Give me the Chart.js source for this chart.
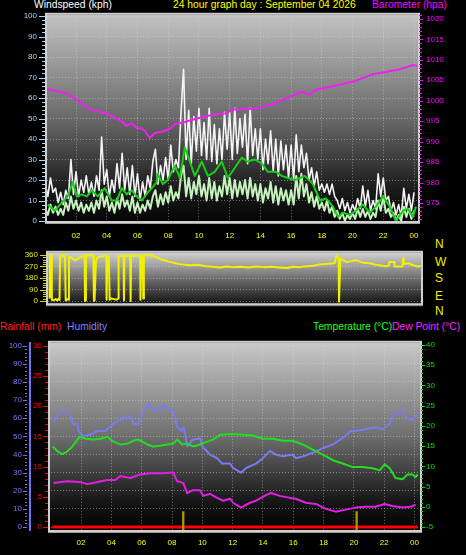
<!DOCTYPE html>
<html>
<head>
<meta charset="utf-8">
<script src="https://cdn.jsdelivr.net/npm/chart.js@4.4.1/dist/chart.umd.min.js"></script>
<style>
  body { margin: 0; background: #000; width: 466px; height: 555px; overflow: hidden; position: relative;
         font-family: "Liberation Sans", Arial, sans-serif; }
  canvas { position: absolute; left: 0; }
  .t { position: absolute; font-size: 10.3px; line-height: 12px; white-space: nowrap; }
  .c { position: absolute; left: 435px; font-size: 12px; line-height: 12px; color: #f0f000; }
</style>
</head>
<body>
<div class="t" style="left:34px;top:-1px;color:#fff">Windspeed (kph)</div>
<div class="t" style="left:173px;top:-1px;color:#ffff00">24 hour graph day : September 04 2026</div>
<div class="t" style="left:372px;top:-1px;color:#ff00ff">Barometer (hpa)</div>

<div class="c" style="top:238px">N</div>
<div class="c" style="top:256px">W</div>
<div class="c" style="top:272px">S</div>
<div class="c" style="top:290px">E</div>
<div class="c" style="top:305px">N</div>

<div class="t" style="left:0;top:321px;color:#ff2020">Rainfall (mm)</div>
<div class="t" style="left:67px;top:321px;color:#8080ff">Humidity</div>
<div class="t" style="left:313px;top:321px;color:#20ff20">Temperature (°C)</div>
<div class="t" style="left:392px;top:321px;color:#ff20ff">Dew Point (°C)</div>

<canvas id="wind" width="466" height="240" style="top:0"></canvas>
<canvas id="dir" width="466" height="80" style="top:238px"></canvas>
<canvas id="temp" width="466" height="225" style="top:330px"></canvas>

<script>
// ---- data ----
const hourTicks = [2, 4, 6, 8, 10, 12, 14, 16, 18, 20, 22, 24];
const windTicks = [0, 10, 20, 30, 40, 50, 60, 70, 80, 90, 100];
const baroTicks = [975, 980, 985, 990, 995, 1000, 1005, 1010, 1015, 1020];
const dirTicks = [0, 90, 180, 270, 360];
const humTicks = [0, 10, 20, 30, 40, 50, 60, 70, 80, 90, 100];
const rainTicks = [0, 5, 10, 15, 20, 25, 30];
const tempTicks = [-5, 0, 5, 10, 15, 20, 25, 30, 35, 40];

// gust and wind speed, one sample every 10 minutes from 00:00
const windStep = 1 / 6;
const gustKph = [
  18, 12, 21, 14, 16, 9,   14, 8, 15, 11, 30, 13,   24, 12, 20, 14, 22, 13,   19, 12, 22, 15, 41, 18,
  25, 12, 20, 14, 28, 16,  33, 15, 26, 13, 27, 12,  23, 10, 19, 12, 22, 16,   29, 35, 18, 27, 20, 31,
  20, 37, 24, 30, 26, 53,  74, 30, 54, 28, 51, 34,  55, 32, 48, 30, 55, 29,   47, 28, 45, 30, 53, 35,
  53, 30, 55, 33, 50, 36,  52, 28, 55, 32, 45, 30,  45, 25, 40, 28, 44, 24,   40, 22, 39, 25, 37, 21,
  37, 20, 42, 24, 37, 26,  33, 20, 26, 17, 24, 15,  18, 14, 18, 13, 18, 12,   10, 6, 11, 5, 9, 4,
  8, 5, 11, 6, 17, 7,      15, 5, 10, 6, 23, 12,    21, 10, 12, 5, 9, 3,      8, 2, 16, 6, 13, 5,
  14
];
const windKph = [
  6, 3, 8, 4, 7, 3,        6, 3, 9, 5, 12, 6,       10, 5, 9, 4, 8, 5,        9, 4, 10, 6, 15, 7,
  12, 5, 9, 4, 11, 6,      13, 7, 10, 5, 12, 4,     9, 4, 8, 5, 10, 6,        12, 15, 7, 13, 8, 14,
  9, 17, 10, 14, 11, 22,   27, 12, 21, 11, 19, 13,  22, 12, 18, 10, 21, 11,   19, 10, 17, 12, 22, 13,
  21, 11, 20, 12, 19, 13,  20, 11, 21, 12, 18, 10,  18, 9, 16, 11, 19, 9,     17, 8, 16, 10, 15, 8,
  15, 8, 22, 11, 23, 12,   18, 9, 14, 7, 12, 6,     9, 5, 10, 4, 7, 2,        5, 1, 4, 0, 3, 1,
  4, 1, 6, 2, 6, 2,        5, 1, 4, 2, 10, 5,       12, 4, 6, 2, 4, 0,        3, 0, 7, 2, 6, 1,
  5
];
const avgHours = [0.16, 0.61, 1.07, 1.46, 1.79, 2.05, 2.37, 2.7, 3.02, 3.41, 3.87, 4.33, 4.65, 4.98, 5.3, 5.63,
  5.95, 6.28, 6.67, 6.93, 7.26, 7.32, 7.65, 7.97, 8.43, 8.76, 9.08, 9.41, 9.73, 10.19, 10.58, 11.03, 11.49, 11.88,
  12.34, 12.79, 13.18, 13.64, 14.1, 14.49, 15.01, 15.4, 15.79, 16.25, 16.9, 17.42, 17.88, 18.27, 18.72, 19.05,
  19.37, 19.83, 20.22, 20.68, 21.13, 21.52, 21.98, 22.43, 22.82, 23.28, 23.6, 23.93, 24.13];
const avgKph = [8, 5, 9, 12, 19, 12, 13, 12, 15, 12, 16, 10, 10, 16, 13, 15,
  12, 10, 14, 16, 19, 23, 18, 20, 27, 21, 36, 29, 22, 29, 22, 24, 29, 21,
  26, 31, 29, 30, 28, 24, 24, 22, 21, 20, 22, 18, 10, 11, 7, 2,
  4, 3, 5, 8, 4, 7, 12, 7, 0, 5, 6, 2, 7];
const baroHours = [0.09, 0.61, 1.46, 1.92, 2.24, 2.57, 2.89, 3.41, 4.0, 4.33, 4.98, 5.3, 5.63, 5.95, 6.28, 6.48,
  6.8, 7.13, 7.58, 8.1, 8.43, 9.08, 9.93, 11.03, 11.69, 12.34, 12.99, 13.64, 14.29, 14.95, 15.6, 16.25, 16.64,
  17.22, 17.61, 18.53, 19.37, 20.22, 21.33, 22.17, 23.08, 23.93, 24.2];
const baroHpa = [1002.9, 1002.5, 1001.7, 1000.5, 999.8, 998.8, 997.9, 997.4, 996.9, 996.2, 995.0, 993.8, 994.5, 993.3, 993.3, 992.6,
  990.9, 992.1, 992.4, 993.1, 994.3, 994.8, 995.7, 996.7, 996.9, 997.9, 997.9, 998.1, 998.6, 999.3, 1000.5, 1001.5, 1002.2,
  1001.5, 1002.7, 1003.4, 1004.1, 1004.9, 1006.5, 1007.0, 1007.7, 1008.7, 1008.5];

// wind direction
const dirHours = [0.10, 0.13, 0.16, 0.20, 0.25, 0.35, 0.50, 0.60, 0.70, 0.75,
  0.78, 0.90, 1.00, 1.10, 1.15, 1.25, 1.33, 1.36, 1.50, 1.75,
  2.00, 2.29, 2.38, 2.40, 2.44, 2.46, 2.70, 2.94, 2.98, 3.02,
  3.11, 3.20, 3.50, 3.78, 3.80, 3.85, 3.95, 4.00, 4.10, 4.30,
  4.45, 4.55, 4.58, 4.90, 4.93, 4.96, 5.33, 5.36, 5.39, 5.70,
  5.98, 6.00, 6.05, 6.15, 6.18, 6.22, 6.50, 6.83, 7.20, 7.47,
  7.80, 8.12, 8.50, 8.77, 9.20, 9.70, 10.28, 10.70, 11.15, 11.60,
  12.00, 12.50, 13.00, 13.50, 14.00, 14.50, 15.00, 15.50, 15.90, 16.33,
  16.80, 17.20, 17.63, 18.20, 18.60, 18.71, 18.80, 18.86, 18.88, 18.93,
  18.97, 19.20, 19.36, 19.70, 20.00, 20.43, 20.90, 21.20, 21.52, 21.90,
  22.10, 22.16, 22.45, 22.49, 23.00, 23.05, 23.12, 23.40, 23.70, 24.00,
  24.20];
const dirDeg = [20, 360, 40, 355, 10, 5, 15, 5, 20, 8,
  355, 360, 350, 358, 5, 15, 10, 350, 340, 318,
  335, 355, 352, 0, 5, 355, 358, 355, 0, 5,
  310, 340, 350, 355, 10, 320, 350, 10, 20, 15,
  10, 20, 350, 355, 5, 350, 355, 0, 350, 355,
  352, 10, 340, 355, 20, 355, 360, 352, 335, 320,
  310, 300, 290, 285, 280, 283, 272, 268, 262, 270,
  265, 268, 262, 270, 265, 268, 263, 258, 268, 265,
  272, 275, 285, 292, 295, 355, 345, 340, -5, -5,
  330, 318, 305, 312, 320, 300, 295, 285, 280, 272,
  275, 305, 305, 270, 270, 340, 290, 295, 280, 270,
  275];

// humidity, temperature, dew point, rain
const humHours = [0.18, 0.64, 1.1, 1.3, 1.5, 1.76, 1.83, 2.16, 2.62, 3.08, 3.6, 4.13, 4.59, 4.79, 5.25, 5.45,
  5.78, 6.04, 6.43, 6.76, 7.22, 7.42, 7.75, 8.08, 8.34, 8.67, 8.74, 8.87, 9.0, 9.33, 9.86, 9.99,
  10.5, 10.97, 11.3, 11.83, 12.03, 12.55, 12.88, 13.54, 14.0, 14.46, 14.86, 15.32, 15.97, 16.17, 16.63, 17.29,
  17.95, 18.61, 19.26, 19.79, 20.12, 20.78, 21.43, 21.89, 22.36, 22.68, 23.01, 23.21, 23.41, 23.74, 24.0, 24.2];
const humPct = [58, 64, 64, 61, 56.5, 57, 53, 50, 51, 53, 53, 57, 59, 61, 61, 57,
  56.5, 62.5, 68, 65, 65, 67, 65, 64.5, 55, 53, 55, 51, 44.5, 48, 49, 44.5,
  40, 38, 35, 35, 32.6, 30, 32.6, 35, 38, 42, 40, 39, 40, 38, 39, 41,
  43.5, 45.6, 49, 53, 53, 54, 55, 54, 57, 62.5, 64, 64.6, 61, 59, 60, 62.5];
const tempHours = [0.12, 0.45, 0.78, 1.1, 1.43, 1.76, 1.96, 2.29, 2.82, 3.28, 3.74, 4.13, 4.59, 5.05, 5.45, 5.78,
  6.37, 6.76, 7.22, 7.68, 8.08, 8.34, 8.67, 9.0, 9.39, 9.86, 10.32, 10.71, 11.17, 11.83, 12.68, 13.34,
  14.0, 14.66, 15.32, 15.97, 16.63, 17.29, 17.95, 18.61, 19.26, 19.92, 20.58, 21.24, 21.7, 22.03, 22.36, 22.75,
  23.21, 23.54, 23.87, 24.07, 24.2];
const tempC = [14.9, 13.7, 13.0, 13.7, 14.9, 16.6, 17.3, 16.8, 16.6, 16.8, 17.3, 16.1, 15.4, 15.6, 16.3, 16.6,
  15.4, 14.9, 15.1, 15.4, 15.6, 16.6, 15.4, 15.6, 14.9, 15.4, 16.1, 16.6, 17.8, 18.0, 17.8, 17.6,
  16.8, 16.8, 16.3, 16.3, 15.4, 14.1, 12.9, 11.5, 10.7, 9.8, 9.8, 9.5, 9.0, 10.5, 9.5, 7.1,
  6.8, 8.0, 8.0, 7.3, 8.0];
const dewHours = [0.18, 1.1, 1.96, 2.42, 3.08, 3.74, 4.26, 4.59, 5.25, 5.91, 6.57, 7.22, 8.08, 8.34, 8.74, 9.0,
  9.39, 9.86, 10.05, 10.51, 10.97, 11.37, 11.83, 12.03, 12.55, 13.14, 13.54, 14.2, 14.53, 15.12, 15.78, 16.17,
  16.83, 17.49, 18.14, 18.8, 19.46, 20.12, 20.78, 21.43, 22.03, 22.55, 23.21, 23.74, 24.07];
const dewC = [5.9, 6.3, 6.1, 5.6, 6.1, 6.6, 6.6, 7.6, 7.1, 8.0, 8.3, 8.3, 8.5, 6.3, 5.9, 3.4,
  4.1, 4.1, 2.7, 3.2, 2.2, 1.5, 2.0, 1.0, -0.2, 1.0, 1.5, 2.9, 3.4, 2.7, 2.2, 2.0,
  1.0, 0.7, -0.5, -1.2, -0.7, -0.2, 0, 0, 0.7, 0.2, -0.2, 0, 0.5];
const rainHours = [0.1, 24.2];
const rainMm = [0, 0];
const rainBarHours = [8.74, 20.18];
const rainBarMm = [2.6, 2.6];

// ---- helpers ----
Chart.defaults.font.family = '"Liberation Sans", Arial, sans-serif';
Chart.defaults.font.size = 8;
Chart.defaults.animation = false;
Chart.defaults.plugins.legend.display = false;
Chart.defaults.plugins.tooltip.enabled = false;
Chart.defaults.elements.point.radius = 0;
Chart.defaults.elements.line.borderJoinStyle = 'round';

const gridColor = 'rgba(225,225,225,0.45)';
const pts = (xs, ys) => xs.map((x, i) => ({ x, y: ys[i] }));
const steps = (ys) => ys.map((y, i) => ({ x: i * windStep, y }));
const setTicks = (vals) => (s) => { s.ticks = vals.map(v => ({ value: v })); };
const fixW = (w) => (s) => { s.width = w; };
const fixH = (h) => (s) => { s.height = h; };
const hourLabel = (v) => String(v % 24).padStart(2, '0');
const plainLabel = (v) => String(v);

// plot background, frame and small tick marks
const framePlugin = {
  id: 'frame',
  beforeDraw(chart, args, opts) {
    const { ctx, chartArea: a } = chart;
    const g = ctx.createLinearGradient(0, a.top, 0, a.bottom);
    opts.stops.forEach(([p, c]) => g.addColorStop(p, c));
    ctx.save();
    ctx.fillStyle = g;
    ctx.fillRect(a.left, a.top, a.right - a.left, a.bottom - a.top);
    ctx.restore();
  },
  afterDatasetsDraw(chart, args, opts) {
    const { ctx, chartArea: a } = chart;
    ctx.save();
    ctx.strokeStyle = '#d0d0d0';
    ctx.lineWidth = 2;
    ctx.strokeRect(a.left - 1, a.top - 1, a.right - a.left + 2, a.bottom - a.top + 2);
    ctx.strokeStyle = '#a0a0a0';
    ctx.lineWidth = 1;
    ctx.beginPath();
    ctx.moveTo(a.left - 2, a.bottom + 2.5);
    ctx.lineTo(a.right + 2, a.bottom + 2.5);
    ctx.stroke();

    opts.marks.forEach(t => {
      const s = chart.scales[t.id];
      const left = s.position === 'left';
      const edge = left ? s.right - t.gap : s.left + t.gap;
      ctx.strokeStyle = t.color;
      for (let v = Math.ceil(s.min / t.step) * t.step; v <= s.max; v += t.step) {
        const y = Math.round(s.getPixelForValue(v)) + 0.5;
        const major = Math.abs(v / t.major - Math.round(v / t.major)) < 1e-6;
        const len = major ? t.majorLen : t.minorLen;
        ctx.beginPath();
        ctx.moveTo(edge, y);
        ctx.lineTo(left ? edge - len : edge + len, y);
        ctx.stroke();
      }
    });
    ctx.restore();
  }
};

const hourAxis = (min, max, h, pad, show) => ({
  type: 'linear', min, max, display: show,
  afterBuildTicks: setTicks(hourTicks), afterFit: fixH(h),
  grid: { color: gridColor, drawTicks: false },
  border: { display: false, dash: [1, 2] },
  ticks: { color: '#ffff00', padding: pad, autoSkip: false, maxRotation: 0, callback: hourLabel }
});

const valueAxis = (position, min, max, vals, w, color, pad, grid) => ({
  position, min, max,
  afterBuildTicks: setTicks(vals), afterFit: fixW(w),
  grid: grid ? { color: gridColor, drawTicks: false } : { display: false, drawTicks: false },
  border: { display: false, dash: [1, 2] },
  ticks: { color, padding: pad, autoSkip: false, callback: plainLabel }
});

// ---- wind speed and barometer ----
new Chart(document.getElementById('wind'), {
  type: 'line',
  data: {
    datasets: [
      { data: pts(baroHours, baroHpa), yAxisID: 'baro', borderColor: '#f020f0', borderWidth: 2 },
      { data: pts(avgHours, avgKph), yAxisID: 'kph', borderColor: '#14d014', borderWidth: 2 },
      { data: steps(windKph), yAxisID: 'kph', borderColor: '#c6f2be', borderWidth: 2 },
      { data: steps(gustKph), yAxisID: 'kph', borderColor: '#f4f4f4', borderWidth: 1.6 }
    ]
  },
  options: {
    responsive: false,
    layout: { padding: { top: 11, left: 0, right: 0, bottom: 0 } },
    scales: {
      x: hourAxis(0.11, 24.26, 19, 10, true),
      kph: valueAxis('left', 0, 100.6, windTicks, 47, '#a8d8ff', 10, true),
      baro: valueAxis('right', 970.6, 1021, baroTicks, 48, '#ff00ff', 8, false)
    },
    plugins: {
      frame: {
        stops: [[0, '#c2c2c2'], [0.5, '#6a6a6a'], [0.85, '#1a1a1a'], [1, '#050505']],
        marks: [
          { id: 'kph', step: 2, major: 10, color: '#a8d8ff', gap: 2, minorLen: 3, majorLen: 6 },
          { id: 'baro', step: 1, major: 5, color: '#ff00ff', gap: 1, minorLen: 3, majorLen: 4 }
        ]
      }
    }
  },
  plugins: [framePlugin]
});

// ---- wind direction ----
new Chart(document.getElementById('dir'), {
  type: 'line',
  data: {
    datasets: [
      { data: pts(dirHours, dirDeg), borderColor: '#f0f000', borderWidth: 2 }
    ]
  },
  options: {
    responsive: false,
    layout: { padding: { top: 6, left: 0, right: 45, bottom: 5 } },
    scales: {
      x: hourAxis(0, 24.2, 0, 0, false),
      y: valueAxis('left', -17, 377, dirTicks, 48, '#e8e800', 10, true)
    },
    plugins: {
      frame: {
        stops: [[0, '#d0d0d0'], [0.5, '#707070'], [1, '#141414']],
        marks: [{ id: 'y', step: 18, major: 90, color: '#d8d800', gap: 2, minorLen: 3, majorLen: 6 }]
      }
    }
  },
  plugins: [framePlugin]
});

// ---- rain, humidity, temperature, dew point ----
const rainMin = -0.49;
new Chart(document.getElementById('temp'), {
  type: 'line',
  data: {
    datasets: [
      { data: rainBarHours.flatMap((h, i) => [{ x: h, y: rainMin }, { x: h, y: rainBarMm[i] }, { x: h, y: null }]),
        yAxisID: 'rain', borderColor: '#a89c00', borderWidth: 2.3 },
      { data: pts(rainHours, rainMm), yAxisID: 'rain', borderColor: '#ff0000', borderWidth: 3 },
      { data: pts(dewHours, dewC), yAxisID: 'temp', borderColor: '#e020e0', borderWidth: 2 },
      { data: pts(tempHours, tempC), yAxisID: 'temp', borderColor: '#22dd22', borderWidth: 2 },
      { data: pts(humHours, humPct), yAxisID: 'hum', borderColor: '#7a7af0', borderWidth: 2 }
    ]
  },
  options: {
    responsive: false,
    layout: { padding: { top: 10, left: 0, right: 0, bottom: 0 } },
    scales: {
      x: hourAxis(-0.05, 24.36, 25, 8, true),
      hum: Object.assign(valueAxis('left', -1.6, 101.6, humTicks, 30, '#7878f8', 8, true),
        { weight: 1, border: { display: true, color: '#7070f0', width: 2, dash: [1, 2] } }),
      rain: Object.assign(valueAxis('left', rainMin, 30.49, rainTicks, 20, '#ff0000', 8, false), { weight: 0 }),
      temp: valueAxis('right', -5.73, 40.5, tempTicks, 46, '#00e000', 6, false)
    },
    plugins: {
      frame: {
        stops: [[0, '#c8c8c8'], [0.5, '#6e6e6e'], [0.85, '#161616'], [1, '#020202']],
        marks: [
          { id: 'hum', step: 2, major: 10, color: '#7070f0', gap: 3, minorLen: 2, majorLen: 4 },
          { id: 'rain', step: 1, major: 5, color: '#ff0000', gap: 2, minorLen: 3, majorLen: 5 },
          { id: 'temp', step: 1, major: 5, color: '#00e000', gap: 1, minorLen: 2, majorLen: 4 }
        ]
      }
    }
  },
  plugins: [framePlugin]
});
</script>
</body>
</html>
